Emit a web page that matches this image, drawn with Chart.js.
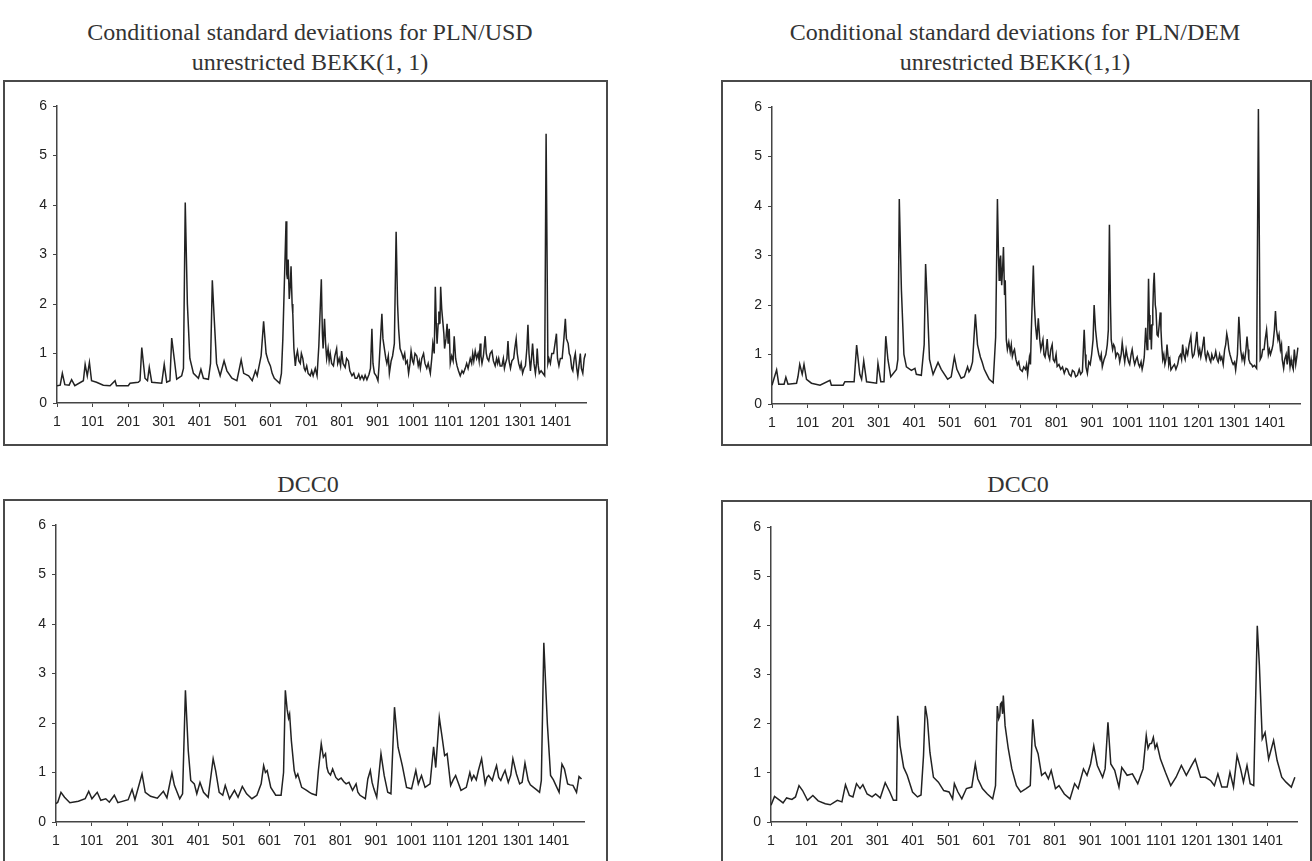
<!DOCTYPE html>
<html>
<head>
<meta charset="utf-8">
<script src="https://cdn.jsdelivr.net/npm/chart.js@4.4.1/dist/chart.umd.min.js"></script>
<style>
  html, body { margin: 0; padding: 0; background: #fff; }
  body { width: 1312px; height: 861px; overflow: hidden; position: relative; }
  .title { position: absolute; font-family: "Liberation Serif", "Times New Roman", serif; font-size: 24px; color: #333; white-space: nowrap; transform: translate(-50%, -50%); }
  .box { position: absolute; border: 2px solid #4a4a4a; box-sizing: border-box; }
  .box canvas { position: absolute; left: 0; top: 0; }
</style>
</head>
<body>

<div class="title" style="left:310px; top:32px;">Conditional standard deviations for PLN/USD</div>
<div class="title" style="left:310px; top:62px;">unrestricted BEKK(1, 1)</div>
<div class="title" style="left:1015px; top:32px;">Conditional standard deviations for PLN/DEM</div>
<div class="title" style="left:1015px; top:62px;">unrestricted BEKK(1,1)</div>
<div class="title" style="left:308px; top:484px;">DCC0</div>
<div class="title" style="left:1018px; top:484px;">DCC0</div>

<div class="box" id="boxUsdBekk"><canvas id="usdBekkChart"></canvas></div>
<div class="box" id="boxDemBekk"><canvas id="demBekkChart"></canvas></div>
<div class="box" id="boxUsdDcc"><canvas id="usdDccChart"></canvas></div>
<div class="box" id="boxDemDcc"><canvas id="demDccChart"></canvas></div>

<script>
// etykiety osi x i y
const dayTicks = [1, 101, 201, 301, 401, 501, 601, 701, 801, 901, 1001, 1101, 1201, 1301, 1401];
const valueTicks = [0, 1, 2, 3, 4, 5, 6];

// PLN/USD, unrestricted BEKK(1,1)  [dzien, odchylenie]
const usdBekk = [
  [1,0.35],[10,0.36],[16,0.6],[23,0.37],[35,0.36],[42,0.47],[51,0.35],[75,0.45],[80,0.78],[86,0.55],
  [92,0.82],[98,0.45],[112,0.42],[131,0.36],[150,0.35],[164,0.45],[168,0.35],[201,0.35],[206,0.4],[229,0.42],
  [234,0.45],[239,1.12],[248,0.5],[255,0.45],[260,0.72],[267,0.42],[295,0.4],[302,0.78],[309,0.42],[318,0.45],
  [323,1.31],[330,0.9],[337,0.48],[351,0.55],[356,0.7],[361,4.05],[367,2.0],[374,0.9],[384,0.6],[398,0.5],
  [405,0.68],[412,0.5],[426,0.48],[432,0.8],[437,2.48],[442,1.75],[449,0.8],[459,0.55],[470,0.85],[478,0.65],
  [492,0.5],[506,0.45],[518,0.87],[525,0.6],[539,0.55],[549,0.45],[558,0.65],[563,0.55],[567,0.7],[574,0.95],
  [581,1.65],[588,1.0],[594,0.85],[600,0.75],[605,0.6],[611,0.5],[626,0.4],[631,0.6],[635,1.3],[644,3.67],
  [646,2.6],[648,2.5],[650,2.9],[653,2.1],[656,2.4],[658,2.76],[661,2.0],[663,1.8],[666,1.1],[670,0.75],
  [673,0.95],[676,1.05],[680,0.85],[684,0.8],[687,1.0],[691,0.9],[695,0.7],[698,0.65],[702,0.75],[706,0.6],
  [712,0.55],[716,0.65],[720,0.55],[726,0.7],[731,0.55],[736,1.15],[743,2.5],[746,1.4],[748,1.1],[752,1.7],
  [755,1.2],[758,0.9],[762,1.1],[765,0.85],[768,1.0],[772,0.8],[777,0.75],[781,0.95],[786,1.1],[789,0.8],
  [793,0.9],[797,0.75],[800,1.05],[804,0.8],[810,0.72],[814,0.9],[819,0.85],[823,0.65],[829,0.55],[834,0.6],
  [838,0.5],[843,0.5],[848,0.58],[852,0.48],[857,0.55],[862,0.47],[866,0.56],[871,0.47],[877,0.58],[881,0.7],
  [885,1.5],[888,0.8],[892,0.6],[897,0.55],[902,0.45],[905,0.75],[908,1.15],[913,1.8],[916,1.3],[920,1.1],
  [924,0.9],[927,0.8],[931,0.95],[934,0.6],[939,0.85],[943,0.95],[948,1.2],[953,3.46],[957,2.0],[960,1.5],
  [964,1.1],[969,1.0],[973,0.9],[977,1.0],[980,0.8],[984,0.85],[988,0.6],[992,0.8],[995,1.05],[999,0.85],
  [1002,0.8],[1006,1.0],[1011,0.95],[1015,0.75],[1018,0.85],[1021,0.7],[1025,0.9],[1030,1.0],[1034,0.8],[1039,0.7],
  [1043,0.8],[1049,0.6],[1053,0.9],[1056,1.2],[1060,1.0],[1063,2.35],[1066,1.5],[1068,1.2],[1071,1.6],[1073,1.85],
  [1076,1.6],[1078,2.35],[1081,1.9],[1084,1.65],[1087,1.4],[1089,1.1],[1093,1.3],[1096,1.6],[1099,1.2],[1102,1.5],
  [1105,0.8],[1109,0.95],[1113,0.85],[1116,1.35],[1120,0.9],[1124,0.75],[1128,0.65],[1133,0.55],[1138,0.65],[1142,0.6],
  [1147,0.7],[1151,0.8],[1155,0.7],[1161,0.9],[1165,0.8],[1168,1.0],[1171,0.85],[1175,1.05],[1179,0.9],[1183,1.0],
  [1186,0.85],[1189,1.2],[1191,0.95],[1194,0.8],[1198,0.95],[1203,1.35],[1206,1.0],[1209,0.9],[1213,0.85],[1217,1.0],
  [1222,1.05],[1226,0.85],[1231,0.75],[1235,0.9],[1238,0.8],[1241,0.9],[1245,0.75],[1250,0.75],[1254,0.9],[1257,0.7],
  [1260,0.8],[1264,0.9],[1267,1.25],[1270,0.85],[1274,0.7],[1278,0.85],[1283,0.9],[1286,1.1],[1290,1.3],[1293,1.0],
  [1297,0.8],[1301,0.7],[1304,0.8],[1308,0.6],[1312,0.7],[1316,0.75],[1320,1.1],[1323,1.58],[1326,1.0],[1330,0.65],
  [1333,0.9],[1336,1.2],[1340,0.8],[1344,0.6],[1347,0.8],[1349,1.1],[1352,0.75],[1355,0.6],[1360,0.65],[1365,0.6],
  [1370,0.55],[1374,5.44],[1379,0.8],[1382,0.9],[1386,0.8],[1390,1.0],[1395,1.0],[1399,1.2],[1403,1.4],[1406,0.9],
  [1410,0.75],[1414,0.9],[1419,0.9],[1424,1.3],[1428,1.7],[1431,1.3],[1436,1.2],[1439,1.0],[1442,0.95],[1446,0.7],
  [1449,0.65],[1453,0.9],[1456,1.0],[1460,0.7],[1463,0.55],[1467,0.8],[1470,1.0],[1473,0.7],[1477,0.6],[1481,0.9],
  [1485,1.0]
];

// PLN/DEM, unrestricted BEKK(1,1)
const demBekk = [
  [1,0.38],[14,0.69],[20,0.4],[35,0.4],[40,0.54],[46,0.4],[70,0.42],[74,0.55],[79,0.8],[86,0.6],
  [91,0.8],[98,0.5],[112,0.42],[136,0.38],[164,0.48],[168,0.38],[201,0.38],[206,0.45],[232,0.45],[239,1.19],
  [248,0.6],[253,0.5],[259,0.87],[267,0.45],[295,0.42],[299,0.82],[307,0.45],[316,0.45],[321,1.37],[327,0.9],
  [335,0.55],[351,0.7],[355,0.9],[359,4.14],[365,2.3],[372,1.0],[379,0.75],[393,0.68],[403,0.72],[407,0.6],
  [421,0.58],[429,1.2],[433,2.83],[438,2.0],[444,0.9],[454,0.6],[468,0.84],[477,0.7],[495,0.5],[505,0.55],
  [514,0.95],[521,0.7],[533,0.52],[542,0.55],[551,0.75],[555,0.65],[559,0.7],[565,0.85],[573,1.81],[579,1.2],
  [587,0.95],[592,0.85],[598,0.7],[605,0.6],[612,0.5],[623,0.43],[630,1.35],[635,4.14],[638,3.0],[640,2.5],
  [642,2.9],[644,3.0],[647,2.4],[650,2.8],[652,3.17],[655,2.2],[657,2.5],[660,1.3],[663,1.1],[667,1.25],
  [671,1.05],[674,1.2],[677,0.96],[680,1.05],[683,1.1],[687,0.9],[691,0.79],[695,0.85],[699,0.7],[705,0.66],
  [709,0.75],[714,0.7],[717,0.8],[720,0.6],[725,0.94],[728,0.8],[730,1.4],[736,2.8],[739,2.0],[742,1.6],
  [746,1.3],[750,1.73],[754,1.3],[757,1.1],[760,1.2],[763,1.3],[766,1.0],[769,0.95],[772,1.1],[775,1.31],
  [778,1.0],[782,0.9],[785,1.1],[789,1.2],[792,0.9],[796,0.85],[800,1.0],[803,0.76],[808,0.8],[813,0.7],
  [818,0.75],[823,0.62],[828,0.72],[832,0.7],[837,0.6],[842,0.56],[846,0.68],[851,0.65],[855,0.55],[860,0.58],
  [865,0.7],[869,0.6],[874,0.65],[879,1.5],[882,1.0],[884,0.75],[888,0.62],[892,0.85],[896,0.8],[900,1.0],
  [904,1.3],[907,2.0],[911,1.5],[916,1.16],[920,1.0],[924,0.9],[927,1.0],[930,0.75],[935,0.9],[940,1.0],
  [944,1.2],[947,1.5],[950,3.62],[953,2.0],[955,1.3],[959,1.1],[962,1.2],[965,1.15],[968,0.95],[972,1.03],
  [976,1.0],[979,0.85],[983,1.0],[986,1.24],[990,1.0],[993,0.85],[997,1.1],[1000,0.97],[1004,0.85],[1007,0.8],
  [1011,1.0],[1014,1.1],[1018,0.9],[1021,0.8],[1025,0.9],[1028,0.95],[1032,0.8],[1035,0.75],[1039,0.85],[1042,0.7],
  [1045,0.8],[1048,0.95],[1052,1.54],[1054,1.3],[1056,1.1],[1058,1.6],[1060,2.53],[1062,1.8],[1064,1.3],[1066,1.6],
  [1068,1.1],[1070,1.6],[1072,1.9],[1074,2.4],[1076,2.65],[1079,2.0],[1081,1.9],[1084,1.4],[1087,1.37],[1090,1.6],
  [1093,1.85],[1095,1.5],[1097,1.2],[1100,0.9],[1103,1.0],[1106,0.8],[1109,0.9],[1112,1.2],[1115,0.95],[1117,0.8],
  [1120,0.9],[1123,0.69],[1128,0.75],[1133,0.8],[1137,0.7],[1142,0.8],[1146,0.95],[1150,1.0],[1153,0.9],[1156,1.2],
  [1159,1.0],[1163,0.9],[1166,1.1],[1170,1.0],[1174,1.2],[1179,1.37],[1182,1.05],[1184,0.95],[1188,1.0],[1192,1.2],
  [1196,1.46],[1199,1.1],[1201,1.0],[1204,1.1],[1207,0.95],[1211,1.1],[1216,1.36],[1219,1.0],[1222,0.9],[1226,1.05],
  [1229,1.0],[1232,0.9],[1235,0.85],[1238,1.0],[1242,0.9],[1246,0.95],[1249,1.06],[1253,0.9],[1256,0.85],[1260,1.0],
  [1263,0.9],[1266,0.95],[1270,0.8],[1274,1.1],[1277,1.2],[1280,1.42],[1283,1.3],[1286,1.1],[1289,1.0],[1291,0.95],
  [1295,0.85],[1298,0.8],[1302,0.85],[1305,0.69],[1310,1.0],[1314,1.76],[1317,1.4],[1319,1.1],[1323,0.9],[1326,1.0],
  [1330,0.85],[1334,1.1],[1337,1.36],[1340,1.1],[1342,0.9],[1346,0.82],[1350,0.8],[1353,0.75],[1358,0.78],[1364,0.72],
  [1369,5.96],[1374,0.9],[1378,0.96],[1381,1.1],[1385,1.1],[1388,1.3],[1392,1.5],[1395,1.2],[1397,1.0],[1400,1.1],
  [1403,1.0],[1407,1.1],[1410,1.2],[1414,1.5],[1417,1.88],[1420,1.5],[1424,1.3],[1427,1.4],[1431,1.1],[1434,1.2],
  [1436,0.9],[1440,0.72],[1443,0.9],[1447,1.0],[1450,0.8],[1454,1.17],[1456,0.9],[1458,0.75],[1461,0.9],[1463,0.8],
  [1467,0.7],[1470,1.1],[1474,0.8],[1477,0.95],[1480,1.14]
];

// PLN/USD, DCC0
const usdDcc = [
  [1,0.37],[6,0.4],[15,0.6],[25,0.5],[40,0.39],[64,0.42],[83,0.47],[93,0.62],[102,0.47],[117,0.6],
  [127,0.44],[141,0.47],[151,0.4],[165,0.54],[175,0.39],[204,0.45],[215,0.66],[223,0.45],[243,0.97],[252,0.6],
  [267,0.52],[286,0.48],[303,0.62],[313,0.49],[327,0.99],[334,0.74],[349,0.47],[357,0.57],[365,2.66],[373,1.44],
  [380,0.84],[390,0.77],[397,0.57],[406,0.8],[416,0.6],[429,0.5],[443,1.28],[450,1.04],[460,0.6],[470,0.54],
  [477,0.74],[489,0.47],[503,0.64],[513,0.5],[525,0.72],[537,0.57],[552,0.47],[566,0.54],[578,0.77],[585,1.14],
  [590,1.0],[595,1.04],[605,0.7],[619,0.54],[634,0.54],[641,1.0],[646,2.66],[651,2.28],[655,2.1],[658,2.18],
  [663,1.64],[671,1.04],[676,0.9],[681,0.97],[692,0.7],[706,0.64],[714,0.6],[721,0.57],[733,0.54],[739,1.04],
  [747,1.58],[753,1.31],[759,1.38],[763,1.1],[767,1.0],[773,0.95],[779,1.07],[788,0.9],[795,0.85],[803,0.89],
  [810,0.82],[817,0.77],[825,0.8],[835,0.64],[845,0.77],[850,0.6],[856,0.54],[871,0.47],[878,0.87],[885,1.04],
  [890,0.8],[895,0.67],[903,0.5],[915,1.38],[924,0.94],[934,0.6],[943,0.57],[953,2.32],[963,1.51],[975,1.14],
  [987,0.7],[1001,0.67],[1013,1.04],[1020,0.77],[1029,0.94],[1039,0.7],[1053,0.77],[1063,1.52],[1069,1.1],[1079,2.11],
  [1087,1.71],[1094,1.34],[1101,1.38],[1111,0.74],[1118,0.85],[1125,0.94],[1132,0.8],[1140,0.64],[1155,0.7],[1165,1.0],
  [1170,0.85],[1176,0.94],[1183,0.85],[1189,1.04],[1198,1.28],[1208,0.77],[1213,0.9],[1218,0.94],[1228,0.84],[1234,1.0],
  [1240,1.14],[1246,0.9],[1252,0.84],[1258,0.95],[1264,1.04],[1273,0.8],[1280,0.95],[1286,1.28],[1296,0.97],[1305,0.77],
  [1312,0.8],[1320,1.19],[1329,0.84],[1335,0.75],[1344,0.7],[1353,0.65],[1361,0.6],[1366,0.84],[1373,3.62],[1383,1.98],
  [1392,0.94],[1400,0.85],[1407,0.74],[1416,0.6],[1424,1.17],[1431,1.07],[1440,0.77],[1447,0.75],[1455,0.74],[1465,0.6],
  [1472,0.92],[1479,0.87]
];

// PLN/DEM, DCC0
const demDcc = [
  [1,0.34],[11,0.52],[26,0.44],[35,0.39],[45,0.49],[60,0.46],[70,0.51],[80,0.74],[90,0.64],[104,0.44],
  [119,0.54],[134,0.43],[154,0.37],[168,0.35],[188,0.44],[201,0.41],[211,0.76],[222,0.54],[232,0.51],[242,0.78],
  [252,0.68],[260,0.76],[272,0.57],[286,0.51],[296,0.57],[309,0.49],[323,0.8],[336,0.61],[346,0.44],[355,0.44],
  [358,2.16],[365,1.55],[375,1.11],[385,0.95],[400,0.61],[414,0.51],[424,0.55],[431,1.35],[436,2.36],[442,2.09],
  [449,1.42],[459,0.91],[473,0.81],[488,0.64],[503,0.61],[513,0.47],[518,0.78],[528,0.61],[539,0.47],[552,0.68],
  [567,0.71],[577,1.18],[584,0.88],[597,0.68],[611,0.57],[626,0.47],[634,0.74],[639,2.36],[643,2.1],[646,2.16],
  [648,2.4],[651,2.43],[654,2.2],[656,2.57],[661,1.96],[670,1.49],[680,1.08],[693,0.74],[705,0.61],[720,0.68],
  [732,0.74],[739,2.09],[746,1.55],[754,1.39],[764,0.95],[774,1.01],[783,0.88],[791,1.05],[803,0.68],[813,0.74],
  [828,0.57],[844,0.47],[857,0.78],[867,0.68],[882,1.08],[892,0.95],[902,1.18],[911,1.55],[921,1.15],[936,0.91],
  [943,1.08],[951,2.03],[959,1.18],[970,1.05],[982,0.71],[990,1.11],[1005,0.95],[1020,0.98],[1035,0.78],[1050,1.08],
  [1059,1.76],[1064,1.5],[1069,1.59],[1074,1.6],[1079,1.72],[1084,1.5],[1089,1.59],[1099,1.28],[1113,1.01],[1128,0.74],
  [1143,0.91],[1158,1.15],[1172,0.95],[1187,1.15],[1197,1.28],[1212,0.91],[1226,0.91],[1241,0.84],[1251,0.74],[1261,0.98],
  [1272,0.71],[1287,0.71],[1295,1.01],[1305,0.71],[1315,1.35],[1325,1.08],[1333,0.81],[1343,1.15],[1352,0.78],[1362,0.74],
  [1372,3.99],[1378,3.18],[1386,1.69],[1394,1.82],[1404,1.28],[1418,1.66],[1428,1.25],[1441,0.91],[1453,0.81],[1468,0.71],
  [1478,0.91]
];

// ramki i polozenie osi na stronie (px)
const panels = [
  { canvas: "usdBekkChart", box: "boxUsdBekk", data: usdBekk, left: 3, top: 80, width: 605, height: 366, axisX: 57, plotRight: 586, plotTop: 106, plotBottom: 403, xMax: 1486 },
  { canvas: "demBekkChart", box: "boxDemBekk", data: demBekk, left: 721, top: 80, width: 591, height: 366, axisX: 772, plotRight: 1300, plotTop: 107, plotBottom: 404, xMax: 1486 },
  { canvas: "usdDccChart", box: "boxUsdDcc", data: usdDcc, left: 3, top: 499, width: 605, height: 380, axisX: 56, plotRight: 584, plotTop: 525, plotBottom: 822, xMax: 1486 },
  { canvas: "demDccChart", box: "boxDemDcc", data: demDcc, left: 721, top: 500, width: 591, height: 380, axisX: 771, plotRight: 1297, plotTop: 527, plotBottom: 822, xMax: 1484 }
];

const tickFont = { family: "'Liberation Sans', Arial, sans-serif", size: 14 };

function drawPanel(p) {
  const box = document.getElementById(p.box);
  box.style.left = p.left + "px";
  box.style.top = p.top + "px";
  box.style.width = p.width + "px";
  box.style.height = p.height + "px";

  const canvas = document.getElementById(p.canvas);
  const cw = p.width - 4;
  const ch = p.height - 4;
  canvas.width = cw;
  canvas.height = ch;
  canvas.style.width = cw + "px";
  canvas.style.height = ch + "px";

  const innerLeft = p.left + 2;
  const innerTop = p.top + 2;
  const yAxisWidth = p.axisX - innerLeft;
  const xAxisHeight = innerTop + ch - p.plotBottom;

  new Chart(canvas, {
    type: "line",
    data: {
      datasets: [{
        data: p.data.map(d => ({ x: d[0], y: d[1] })),
        borderColor: "#222",
        borderWidth: 1.5,
        pointRadius: 0,
        tension: 0,
        fill: false
      }]
    },
    options: {
      responsive: false,
      animation: false,
      devicePixelRatio: 1,
      layout: {
        padding: { left: 0, top: p.plotTop - innerTop, right: innerLeft + cw - p.plotRight, bottom: 0 }
      },
      plugins: {
        legend: { display: false },
        tooltip: { enabled: false }
      },
      scales: {
        x: {
          type: "linear",
          min: 1,
          max: p.xMax,
          afterBuildTicks: axis => { axis.ticks = dayTicks.map(v => ({ value: v })); },
          afterFit: axis => { axis.height = xAxisHeight; },
          ticks: { color: "#222", font: tickFont, padding: 7, maxRotation: 0, autoSkip: false, callback: v => String(v) },
          grid: { display: true, drawOnChartArea: false, drawTicks: true, tickLength: 4, color: "#444" },
          border: { display: true, color: "#444", width: 1.5 }
        },
        y: {
          min: 0,
          max: 6,
          afterBuildTicks: axis => { axis.ticks = valueTicks.map(v => ({ value: v })); },
          afterFit: axis => { axis.width = yAxisWidth; },
          ticks: { color: "#222", font: tickFont, padding: 6, callback: v => String(v) },
          grid: { display: true, drawOnChartArea: false, drawTicks: true, tickLength: 4, color: "#444" },
          border: { display: true, color: "#444", width: 1.5 }
        }
      }
    }
  });
}

panels.forEach(drawPanel);
</script>
</body>
</html>
